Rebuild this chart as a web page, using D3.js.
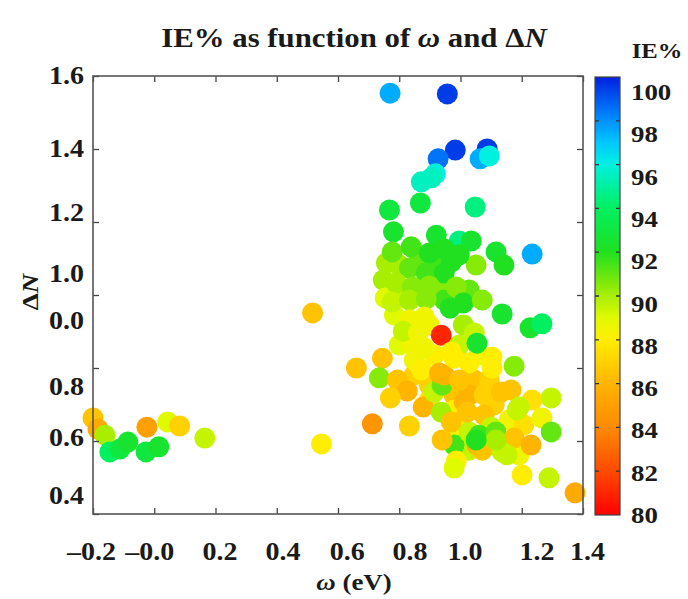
<!DOCTYPE html>
<html>
<head>
<meta charset="utf-8">
<script src="https://cdn.jsdelivr.net/npm/d3@7"></script>
<style>
  body { margin: 0; background: #fff; }
  text { font-family: "Liberation Serif", "DejaVu Serif", serif; font-weight: bold; fill: #1a1a1a; }
</style>
</head>
<body>
<svg id="chart" width="688" height="599"></svg>
<script>
// omega (eV), delta N, IE%
var omega = [0.800, 0.865, 0.921, 0.970, 0.807, 0.865, 0.931, 0.947, 1.028, 0.784,
  0.898, 0.800, 0.839, 0.914, 0.996, 1.061, 0.849, 0.898, 0.979, 1.045,
  1.094, 1.028, 1.110, 1.159, 0.979, 0.898, 0.996, 1.207, 1.094, 1.191,
  1.028, 0.979, 0.748, 0.754,
  0.770, 0.957, 0.983, 0.927, 1.087, 1.064, 1.094, 0.918, 0.872, 0.905,
  0.768, 0.869, 1.048, 0.781, 0.921, 0.996, 1.035, 1.116, 1.142, 1.234,
  1.051, 0.758, 0.777, 0.839, 0.898, 0.947, 0.996, 0.833, 0.888, 0.947,
  0.790, 0.843, 0.898, 0.986, 0.777, 0.833, 0.888, 0.966, 1.009, 1.071,
  1.136, 1.227, 1.266, 0.833, 0.882, 0.813, 0.862, 0.937, 1.009, 1.045,
  1.054, 0.882, 0.970, 1.028, 1.103, 1.103, 1.175, 0.745, 0.660, 0.735,
  0.849, 0.872, 0.794, 0.826, 0.771, 0.878, 0.712, 0.833, 0.940, 0.986,
  0.979, 0.914, 0.940, 0.937, 0.970, 1.012, 1.028, 0.947, 0.979, 0.996,
  1.022, 1.054, 1.077, 1.133, 1.165, 1.234, 1.296, 1.185, 1.266, 1.077,
  1.100, 1.296, 1.061, 1.116, 1.175, 1.230, 1.071, 1.136, 1.152, 1.116,
  1.051, 1.201, 1.289, 1.374, 1.191, 0.931, 0.517, 0.546,
  -0.200, -0.184, -0.161, -0.145, -0.112, -0.086, -0.024, -0.027, 0.015, 0.044, 0.083, 0.165];
var deltaN = [1.082, 1.101, 1.090, 1.090, 1.014, 1.000, 1.014, 0.986, 1.014, 0.945,
  0.918, 0.863, 0.868, 0.836, 0.863, 0.836, 0.781, 0.753, 0.726, 0.767,
  0.767, 0.726, 0.699, 0.658, 0.685, 0.712, 0.630, 0.644, 0.589, 0.562,
  0.575, 0.589, 1.041, 0.992,
  1.553, 1.551, 1.397, 1.373, 1.400, 1.373, 1.381, 1.332, 1.310, 1.321,
  1.233, 1.252, 1.241, 1.173, 1.164, 1.148, 1.148, 1.118, 1.082, 1.112,
  1.082, 1.088, 1.118, 1.132, 1.115, 1.126, 1.110, 1.074, 1.060, 1.060,
  1.033, 1.022, 1.025, 1.022, 0.981, 0.986, 0.989, 0.964, 0.978, 0.986,
  0.948, 0.910, 0.921, 0.932, 0.940, 0.901, 0.896, 0.890, 0.918, 0.896,
  0.868, 0.855, 0.844, 0.814, 0.830, 0.800, 0.805, 0.827, 0.800, 0.773,
  0.822, 0.795, 0.767, 0.737, 0.718, 0.693, 0.647, 0.641, 0.603, 0.545,
  0.526, 0.734, 0.753, 0.679, 0.652, 0.707, 0.625, 0.781, 0.827, 0.767,
  0.679, 0.589, 0.726, 0.734, 0.740, 0.712, 0.718, 0.685, 0.663, 0.671,
  0.638, 0.625, 0.616, 0.625, 0.608, 0.589, 0.575, 0.570, 0.562, 0.603,
  0.603, 0.507, 0.499, 0.458, 0.693, 0.786, 0.951, 0.592,
  0.663, 0.633, 0.616, 0.570, 0.578, 0.597, 0.638, 0.570, 0.584, 0.652, 0.641, 0.608];
var ie = [90, 91, 91.5, 92, 89.5, 90, 90.5, 91.5, 91, 89,
  88.5, 89, 88.5, 88, 89.5, 88.5, 87, 87, 86.5, 86.5,
  87, 86, 87, 88.5, 88, 87.5, 88.5, 87.5, 90, 88.5,
  89.5, 91.5, 90, 89,
  97.5, 99.5, 99.5, 98.5, 99.5, 97.5, 96, 96, 95.5, 95.5,
  93, 93, 94.5, 92.5, 92.5, 94.5, 92.5, 92.5, 92, 97.5,
  90.5, 90, 91, 91.5, 92, 92, 92, 91, 91.5, 92,
  90, 90.5, 90.5, 90.5, 89.5, 90, 90.5, 92, 92, 90.5,
  92.5, 92.5, 94, 88.5, 88.5, 89.5, 88.5, 81, 90, 89.5,
  92.5, 88.5, 88, 88, 88, 88, 90.5, 86.5, 86.5, 90.5,
  88.5, 88, 86.5, 86, 87, 86, 84.5, 87, 86.5, 88,
  89, 89.5, 91, 90, 86.5, 86, 89.5, 86, 88, 86.5,
  86.5, 86, 87, 86.5, 86.5, 87.5, 89.5, 89.5, 88.5, 86.5,
  89.5, 91, 91.5, 91, 86.5, 86, 86.5, 89.5, 89.5, 90,
  92, 88, 89.5, 85.5, 89.5, 86, 86.5, 88,
  86.5, 85.5, 90, 94, 93, 92.5, 85, 93, 92.5, 89, 87, 89.5];

var xTickValues = [-0.2, 0.0, 0.2, 0.4, 0.6, 0.8, 1.0, 1.2, 1.4];
var xTickLabels = ["\u20130.2", "\u20130.0", "0.2", "0.4", "0.6", "0.8", "1.0", "1.2", "1.4"];
var xLabelAt = [-0.205, -0.015, 0.215, 0.42, 0.63, 0.835, 1.015, 1.25, 1.415];
var yTickValues = [0.4, 0.6, 0.8, 1.0, 1.2, 1.4, 1.6];
var yTickLabels = ["1.6", "1.4", "1.2", "1.0", "0.0", "0.8", "0.6", "0.4"];
var yLabelAt = [1.60, 1.40, 1.225, 1.06, 0.93, 0.75, 0.61, 0.45];
var cbTicks = [80, 82, 84, 86, 88, 90, 92, 94, 96, 98, 100];
var cbStops = [80, 82, 84, 86, 88, 89, 90, 92, 94, 96, 97, 98, 100];
var cbColors = ["#ff0000", "#ff4a00", "#ff8a00", "#ffb400", "#ffee00", "#e0fa00", "#a8ee00",
  "#20e020", "#00f060", "#00f0e0", "#00c8ff", "#0090ff", "#0020e0"];

var svg = d3.select("#chart");
var x = d3.scaleLinear().domain([-0.2, 1.4]).range([93, 583]);
var y = d3.scaleLinear().domain([0.4, 1.6]).range([514, 76]);
var color = d3.scaleLinear().domain(cbStops).range(cbColors).clamp(true);

function label(txt, px, py, size, anchor) {
  return svg.append("text")
    .attr("transform", "translate(" + px + "," + py + ") scale(1.12,1)")
    .attr("text-anchor", anchor || "middle")
    .attr("dominant-baseline", "central")
    .style("font-size", size + "px")
    .text(txt);
}

// points
svg.append("g").selectAll("circle")
  .data(d3.range(omega.length))
  .join("circle")
  .attr("cx", function(i) { return x(omega[i]); })
  .attr("cy", function(i) { return y(deltaN[i]); })
  .attr("r", 10.5)
  .attr("fill", function(i) { return color(ie[i]); });

// inward ticks on all four sides
svg.append("g").attr("transform", "translate(0,514)")
  .call(d3.axisBottom(x).tickValues(xTickValues).tickSize(-6).tickFormat(""));
svg.append("g").attr("transform", "translate(0,76)")
  .call(d3.axisTop(x).tickValues(xTickValues).tickSize(-6).tickFormat(""));
svg.append("g").attr("transform", "translate(93,0)")
  .call(d3.axisLeft(y).tickValues(yTickValues).tickSize(-6).tickFormat(""));
svg.append("g").attr("transform", "translate(583,0)")
  .call(d3.axisRight(y).tickValues(yTickValues).tickSize(-6).tickFormat(""));
svg.selectAll(".domain").remove();
svg.selectAll(".tick line").attr("stroke", "#444").attr("stroke-width", 1.3);

svg.append("rect").attr("x", 93).attr("y", 76).attr("width", 490).attr("height", 438)
  .attr("fill", "none").attr("stroke", "#555").attr("stroke-width", 1.6);

xTickLabels.forEach(function(t, i) { label(t, x(xLabelAt[i]), 552, 25); });
yTickLabels.forEach(function(t, i) { label(t, 84, y(yLabelAt[i]), 25, "end"); });

// titles
var title = svg.append("text")
  .attr("transform", "translate(354,37) scale(1.1,1)")
  .attr("text-anchor", "middle").attr("dominant-baseline", "central")
  .style("font-size", "28px");
title.append("tspan").text("IE% as function of ");
title.append("tspan").style("font-style", "italic").text("\u03c9");
title.append("tspan").text(" and \u0394");
title.append("tspan").style("font-style", "italic").text("N");

var xt = svg.append("text")
  .attr("transform", "translate(354,582) scale(1.12,1)")
  .attr("text-anchor", "middle").attr("dominant-baseline", "central")
  .style("font-size", "24px");
xt.append("tspan").style("font-style", "italic").text("\u03c9");
xt.append("tspan").text(" (eV)");

var yt = svg.append("text")
  .attr("transform", "translate(30,292) rotate(-90) scale(1.12,1)")
  .attr("text-anchor", "middle").attr("dominant-baseline", "central")
  .style("font-size", "24px");
yt.append("tspan").text("\u0394");
yt.append("tspan").style("font-style", "italic").text("N");

// colour bar
var cb = d3.scaleLinear().domain([80, 100]).range([515, 77]);
var cbLabel = d3.scaleLinear().domain([80, 100]).range([515, 92]);
var grad = svg.append("defs").append("linearGradient").attr("id", "cbgrad")
  .attr("x1", 0).attr("y1", 1).attr("x2", 0).attr("y2", 0);
grad.selectAll("stop").data(cbStops).join("stop")
  .attr("offset", function(d) { return (d - 80) / 20; })
  .attr("stop-color", function(d) { return color(d); });
svg.append("rect").attr("x", 595).attr("y", 77).attr("width", 25).attr("height", 438)
  .attr("fill", "url(#cbgrad)").attr("stroke", "#444").attr("stroke-width", 1.2);
svg.append("g").selectAll("path")
  .data(cbTicks.slice(1, -1))
  .join("path")
  .attr("d", function(d) { return "M595," + cb(d) + "h4M620," + cb(d) + "h-4"; })
  .attr("stroke", "#333").attr("stroke-width", 1.3);
cbTicks.forEach(function(t) { label(String(t), 631, cbLabel(t), 24, "start"); });
label("IE%", 657, 50, 22);
</script>
</body>
</html>
